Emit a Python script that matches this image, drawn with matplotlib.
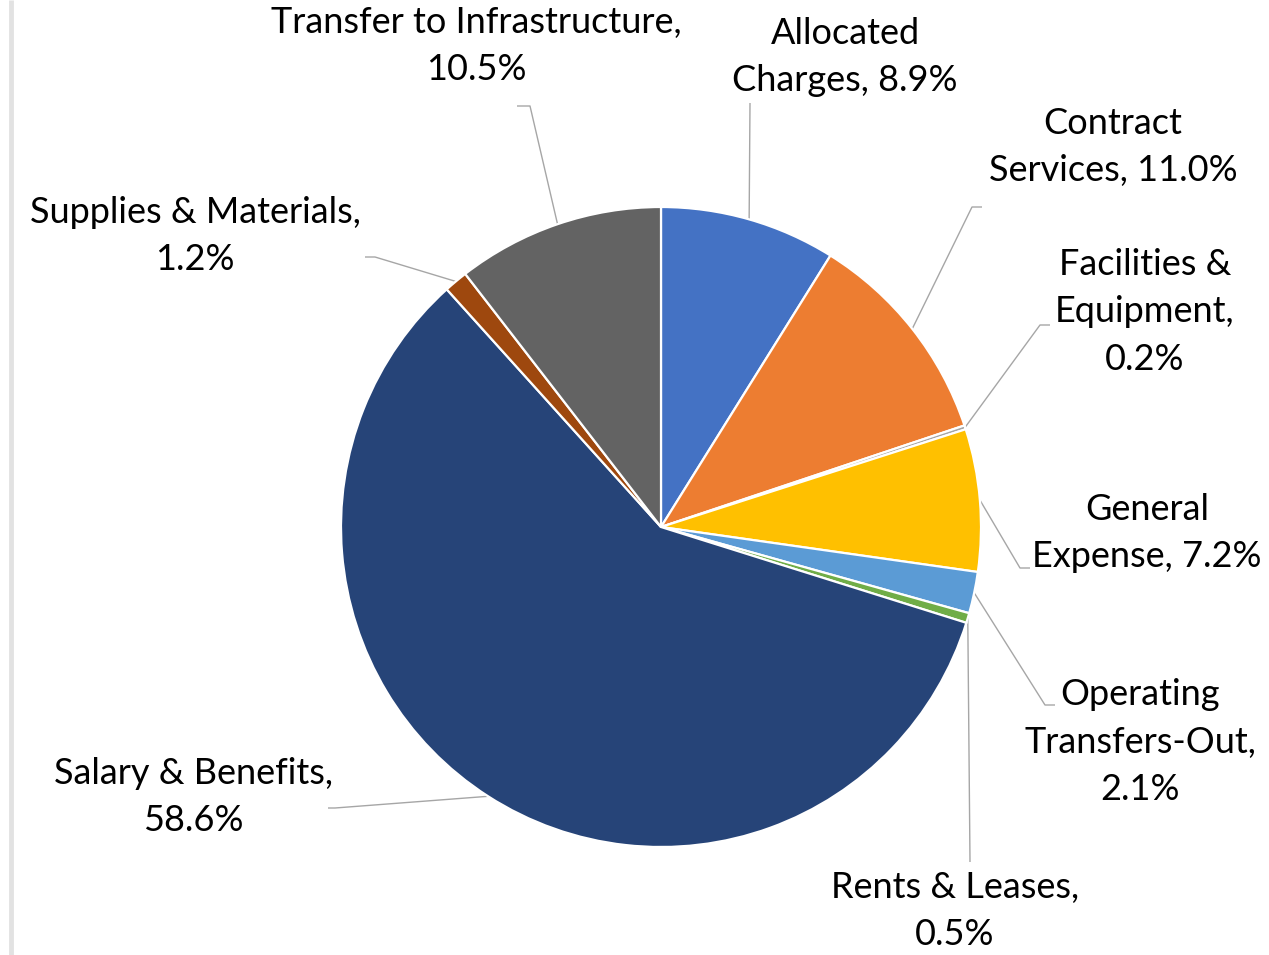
import numpy as np
import matplotlib
matplotlib.use("Agg")
import matplotlib.pyplot as plt

# ---- data ----
categories = ["Allocated Charges", "Contract Services", "Facilities & Equipment",
              "General Expense", "Operating Transfers-Out", "Rents & Leases",
              "Salary & Benefits", "Supplies & Materials", "Transfer to Infrastructure"]
values = [8.9, 11.0, 0.2, 7.2, 2.1, 0.5, 58.6, 1.2, 10.5]
label_texts = ["Allocated\nCharges, 8.9%", "Contract\nServices, 11.0%",
               "Facilities &\nEquipment,\n0.2%", "General\nExpense, 7.2%",
               "Operating\nTransfers-Out,\n2.1%", "Rents & Leases,\n0.5%",
               "Salary & Benefits,\n58.6%", "Supplies & Materials,\n1.2%",
               "Transfer to Infrastructure,\n10.5%"]
colors = ["#4472C4", "#ED7D31", "#A5A5A5", "#FFC000", "#5B9BD5",
          "#70AD47", "#264478", "#9E480E", "#636363"]

W, H = 1269, 955
def Y(p):
    return H - p

fig = plt.figure(figsize=(W / 100, H / 100), dpi=100)
ax = fig.add_axes([0, 0, 1, 1])

cx, cy, R = 661, 527, 320
wedges, _ = ax.pie(values, colors=colors, startangle=90, counterclock=False,
                   center=(cx, Y(cy)), radius=R,
                   wedgeprops=dict(edgecolor="white", linewidth=1.6))
ax.set_xlim(0, W)
ax.set_ylim(0, H)
ax.set_aspect("equal")
ax.axis("off")

# layout: (text center x, text center y in px, leader path points after the wedge edge)
layout = [
    ((845, 57), [(750, 103)]),
    ((1113, 147), [(972, 207), (982, 207)]),
    ((1145, 312), [(1040, 325), (1050, 325)]),
    ((1147, 533), [(1020, 568), (1030, 568)]),
    ((1140, 742), [(1045, 705), (1055, 705)]),
    ((955, 911), [(970, 862)]),
    ((193, 797), [(335, 808), (328, 808)]),
    ((195, 236), [(375, 257), (365, 257)]),
    ((476, 46), [(530, 106), (517, 106)]),
]

font = ["Lato", "DejaVu Sans"]
for w, txt, ((tx, ty), path) in zip(wedges, label_texts, layout):
    ang = np.deg2rad((w.theta1 + w.theta2) / 2)
    sx = w.center[0] + w.r * np.cos(ang)
    sy = w.center[1] + w.r * np.sin(ang)
    xs = [sx] + [p[0] for p in path]
    ys = [sy] + [Y(p[1]) for p in path]
    ax.plot(xs, ys, color="#A6A6A6", lw=1.0, solid_capstyle="butt", zorder=0.5)
    ax.text(tx, Y(ty), txt, ha="center", va="center", multialignment="center",
            fontsize=26, family=font, color="#000000", linespacing=1.55)

# left border of chart frame
ax.plot([10.5, 10.5], [0, H], color="#E2E2E2", lw=3.5, solid_capstyle="butt")

fig.savefig("out.png", dpi=100)
